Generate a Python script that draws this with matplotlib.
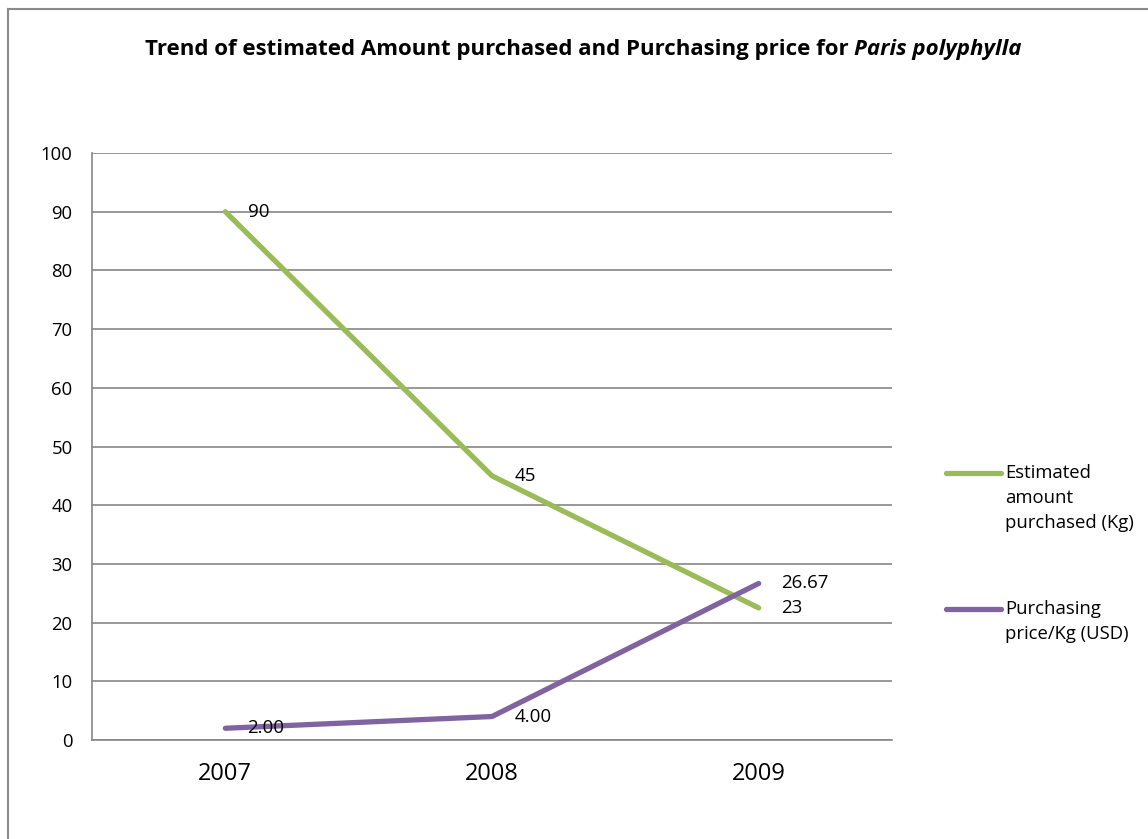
import matplotlib
matplotlib.use("Agg")
import matplotlib.pyplot as plt
from matplotlib.lines import Line2D

years = ["2007", "2008", "2009"]
amount = [90, 45, 22.5]
amount_labels = ["90", "45", "23"]
price = [2.00, 4.00, 26.67]
price_labels = ["2.00", "4.00", "26.67"]
yticks = [0, 10, 20, 30, 40, 50, 60, 70, 80, 90, 100]

GREEN = "#9BBB59"
PURPLE = "#8064A2"
GRID = "#868686"
FONT = "Open Sans"

plt.rcParams["font.family"] = [FONT, "DejaVu Sans"]

W, H = 1148, 839
fig = plt.figure(figsize=(W / 100, H / 100), dpi=100)
fig.patch.set_facecolor("white")

# outer chart border (left and top visible)
fig.add_artist(Line2D([8 / W, 8 / W], [0, 1 - 9 / H], transform=fig.transFigure, color="#8a8a8a", lw=1.5))
fig.add_artist(Line2D([8 / W, 1], [1 - 9 / H, 1 - 9 / H], transform=fig.transFigure, color="#8a8a8a", lw=1.5))

ax = fig.add_axes([92 / W, 1 - 740 / H, 800 / W, 587 / H])
x = list(range(len(years)))
ax.plot(x, amount, color=GREEN, lw=3.8, solid_capstyle="round")
ax.plot(x, price, color=PURPLE, lw=3.8, solid_capstyle="round")

ax.set_xlim(-0.5, 2.5)
ax.set_ylim(0, 100)
ax.set_yticks(yticks)
ax.set_xticks(x)
ax.set_xticklabels(years, fontsize=17)
ax.tick_params(axis="y", length=0, pad=14, labelsize=13.3)
ax.tick_params(axis="x", length=0, pad=16)
ax.grid(axis="y", color=GRID, lw=1.2)
ax.set_axisbelow(True)
for s in ["top", "right"]:
    ax.spines[s].set_visible(False)
ax.spines["left"].set_color(GRID)
ax.spines["bottom"].set_color(GRID)
ax.spines["left"].set_linewidth(1.2)
ax.spines["bottom"].set_linewidth(1.2)

for xi, v, t in zip(x, amount, amount_labels):
    ax.annotate(t, (xi, v), xytext=(16, 0), textcoords="offset points", va="center", ha="left", fontsize=13.5)
for xi, v, t in zip(x, price, price_labels):
    ax.annotate(t, (xi, v), xytext=(16, 0), textcoords="offset points", va="center", ha="left", fontsize=13.5)

# legend
leg_items = [(GREEN, ["Estimated", "amount", "purchased (Kg)"], 473),
             (PURPLE, ["Purchasing", "price/Kg (USD)"], 609)]
for col, lines, ytop in leg_items:
    fig.add_artist(Line2D([946 / W, 1001 / W], [1 - ytop / H] * 2, transform=fig.transFigure,
                          color=col, lw=3.8, solid_capstyle="round"))
    for i, ln in enumerate(lines):
        fig.text(1005 / W, 1 - (ytop + 25 * i) / H, ln, fontsize=13.3, va="center", ha="left")

# title: bold + bold italic
r = fig.canvas.get_renderer()
t1 = fig.text(0, 1 - 49 / H, "Trend of estimated Amount purchased and Purchasing price for ",
              fontsize=16, fontweight="bold", va="center", ha="left")
t2 = fig.text(0, 1 - 49 / H, "Paris polyphylla", fontsize=16, fontweight="bold",
              fontstyle="italic", va="center", ha="left")
w1 = t1.get_window_extent(r).width
w2 = t2.get_window_extent(r).width
start = 583 - (w1 + w2) / 2
t1.set_x(start / W)
t2.set_x((start + w1) / W)

fig.savefig("out.png", dpi=100)
